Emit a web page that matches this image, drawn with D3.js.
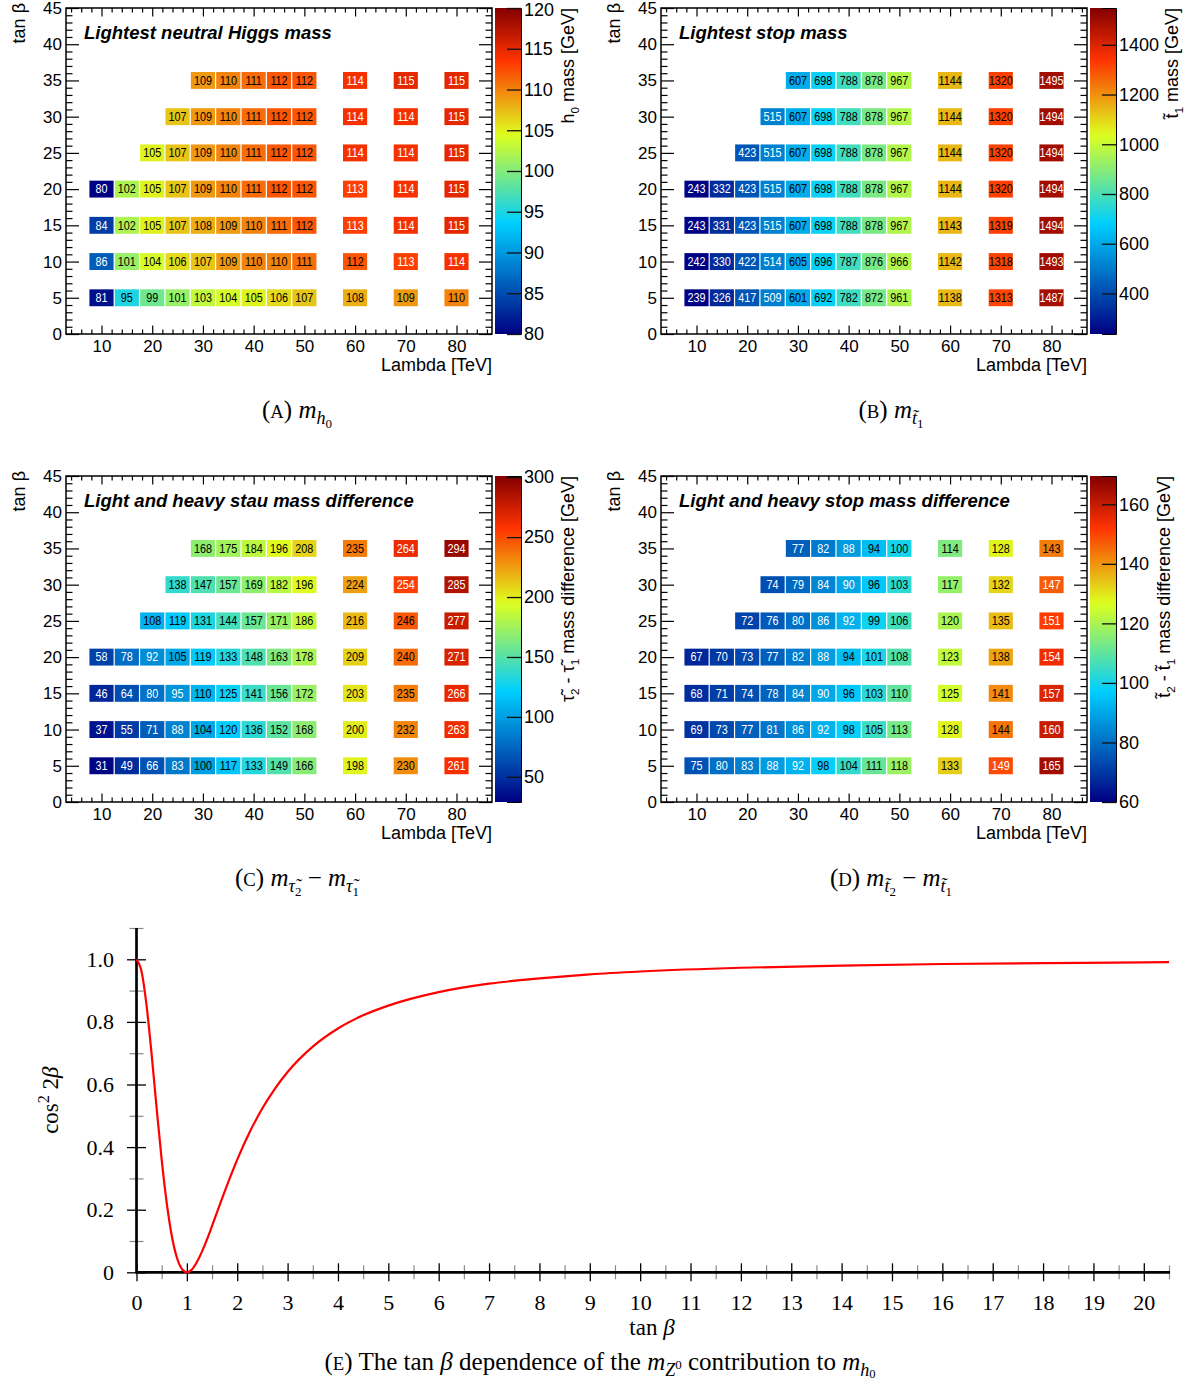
<!DOCTYPE html>
<html>
<head>
<meta charset="utf-8">
<script src="https://cdn.jsdelivr.net/npm/d3@7"></script>
<style>
  body { margin: 0; background: #fff; }
  svg text { font-family: "Liberation Sans", Arial, sans-serif; }
  .serif, .serif text { font-family: "Liberation Serif", "Times New Roman", serif; }
</style>
</head>
<body>
<svg id="fig" width="1195" height="1384"></svg>
<script>
// ---- scan grid ----
const lambdaTeV = [10, 15, 20, 25, 30, 35, 40, 45, 50, 60, 70, 80];
const tanBeta = [5, 10, 15, 20, 25, 30, 35];
const _ = null;

// rows follow tanBeta, columns follow lambdaTeV (null = point not in the scan)
const higgsMass = [
  [81, 95, 99, 101, 103, 104, 105, 106, 107, 108, 109, 110],
  [86, 101, 104, 106, 107, 109, 110, 110, 111, 112, 113, 114],
  [84, 102, 105, 107, 108, 109, 110, 111, 112, 113, 114, 115],
  [80, 102, 105, 107, 109, 110, 111, 112, 112, 113, 114, 115],
  [_, _, 105, 107, 109, 110, 111, 112, 112, 114, 114, 115],
  [_, _, _, 107, 109, 110, 111, 112, 112, 114, 114, 115],
  [_, _, _, _, 109, 110, 111, 112, 112, 114, 115, 115]
];
const stopMass = [
  [239, 326, 417, 509, 601, 692, 782, 872, 961, 1138, 1313, 1487],
  [242, 330, 422, 514, 605, 696, 787, 876, 966, 1142, 1318, 1493],
  [243, 331, 423, 515, 607, 698, 788, 878, 967, 1143, 1319, 1494],
  [243, 332, 423, 515, 607, 698, 788, 878, 967, 1144, 1320, 1494],
  [_, _, 423, 515, 607, 698, 788, 878, 967, 1144, 1320, 1494],
  [_, _, _, 515, 607, 698, 788, 878, 967, 1144, 1320, 1494],
  [_, _, _, _, 607, 698, 788, 878, 967, 1144, 1320, 1495]
];
const stauDiff = [
  [31, 49, 66, 83, 100, 117, 133, 149, 166, 198, 230, 261],
  [37, 55, 71, 88, 104, 120, 136, 152, 168, 200, 232, 263],
  [46, 64, 80, 95, 110, 125, 141, 156, 172, 203, 235, 266],
  [58, 78, 92, 105, 119, 133, 148, 163, 178, 209, 240, 271],
  [_, _, 108, 119, 131, 144, 157, 171, 186, 216, 246, 277],
  [_, _, _, 138, 147, 157, 169, 182, 196, 224, 254, 285],
  [_, _, _, _, 168, 175, 184, 196, 208, 235, 264, 294]
];
const stopDiff = [
  [75, 80, 83, 88, 92, 98, 104, 111, 118, 133, 149, 165],
  [69, 73, 77, 81, 86, 92, 98, 105, 113, 128, 144, 160],
  [68, 71, 74, 78, 84, 90, 96, 103, 110, 125, 141, 157],
  [67, 70, 73, 77, 82, 88, 94, 101, 108, 123, 138, 154],
  [_, _, 72, 76, 80, 86, 92, 99, 106, 120, 135, 151],
  [_, _, _, 74, 79, 84, 90, 96, 103, 117, 132, 147],
  [_, _, _, _, 77, 82, 88, 94, 100, 114, 128, 143]
];

// ---- colour-axis ticks ----
const zTicksHiggs = [80, 85, 90, 95, 100, 105, 110, 115, 120];
const zTicksStop = [400, 600, 800, 1000, 1200, 1400];
const zTicksStau = [50, 100, 150, 200, 250, 300];
const zTicksStopDiff = [60, 80, 100, 120, 140, 160];

// ---- tan beta curve (cos^2 2beta) ----
const curveTanBeta = [0, 0.1, 0.2, 0.3, 0.4, 0.5, 0.6, 0.7, 0.8, 0.9, 1.0, 1.1, 1.2, 1.3, 1.4, 1.5, 1.75, 2, 2.25, 2.5, 2.75, 3, 3.5, 4, 4.5, 5, 6, 7, 8, 9, 10, 12, 14, 16, 18, 20, 20.5];
const curveCos2 = [1, 0.961, 0.852, 0.697, 0.524, 0.36, 0.222, 0.117, 0.048, 0.011, 0, 0.009, 0.033, 0.066, 0.105, 0.148, 0.258, 0.36, 0.449, 0.524, 0.587, 0.64, 0.721, 0.779, 0.821, 0.852, 0.895, 0.922, 0.939, 0.952, 0.961, 0.973, 0.980, 0.985, 0.988, 0.990, 0.991];

const svg = d3.select("#fig");
const defs = svg.append("defs");

// rainbow palette: navy -> cyan -> yellow -> red -> dark red
const palStops = [0, 0.34, 0.61, 0.84, 1];
const palColors = ["rgb(0,0,130)", "rgb(0,207,255)", "rgb(222,255,31)", "rgb(255,51,0)", "rgb(130,0,0)"];
const palette = d3.scaleLinear().domain(palStops).range(palColors).interpolate(d3.interpolateRgb).clamp(true);

const grad = defs.append("linearGradient").attr("id", "pal")
  .attr("x1", 0).attr("y1", 1).attr("x2", 0).attr("y2", 0);
d3.range(0, 1.0001, 0.02).forEach(t => grad.append("stop").attr("offset", t).attr("stop-color", palette(t)));

// mixed-style text built from tspans
function rich(sel, parts, size) {
  parts.forEach(p => {
    const s = sel.append("tspan").text(p.t).attr("font-size", size * (p.fs || 1));
    if (p.it) s.attr("font-style", "italic");
    if (p.shift) s.attr("baseline-shift", (p.shift * size).toFixed(1));
  });
  return sel;
}

function heatPanel(cfg) {
  const { x0, x1, y0, y1, cb0, cb1 } = cfg.box;
  const x = d3.scaleLinear().domain([3, 87]).range([x0, x1]);
  const y = d3.scaleLinear().domain([0, 45]).range([y1, y0]);
  const zn = d3.scaleLinear().domain(cfg.zDomain).range([0, 1]);
  const zy = d3.scaleLinear().domain(cfg.zDomain).range([y1, y0]);
  const g = svg.append("g");

  const cells = [];
  cfg.values.forEach((row, i) => row.forEach((v, j) => {
    if (v != null) cells.push({ L: lambdaTeV[j], tb: tanBeta[i], v });
  }));

  g.append("g").selectAll("rect").data(cells).join("rect")
    .attr("x", d => x(d.L - 2.5) + 0.6)
    .attr("width", d => x(d.L + 2.5) - x(d.L - 2.5) - 1.2)
    .attr("y", d => y(d.tb + 1.25) + 0.6)
    .attr("height", d => y(d.tb - 1.25) - y(d.tb + 1.25) - 1.2)
    .attr("fill", d => palette(zn(d.v)));

  g.append("g").selectAll("text").data(cells).join("text")
    .attr("transform", d => `translate(${x(d.L)},${y(d.tb)}) scale(0.9,1)`)
    .attr("text-anchor", "middle").attr("dy", "0.36em").attr("font-size", 12)
    .attr("fill", d => { const t = zn(d.v); return (t < cfg.lowT || t > cfg.highT) ? "#fff" : "#000"; })
    .text(d => d.v);

  // frame
  g.append("rect").attr("x", x0).attr("y", y0).attr("width", x1 - x0).attr("height", y1 - y0)
    .attr("fill", "none").attr("stroke", "#000").attr("stroke-width", 1.5);

  const xMaj = d3.range(10, 81, 10), xMin = d3.range(4, 87, 2).filter(v => v % 10 !== 0);
  const yMaj = d3.range(0, 46, 5), yMin = d3.range(1, 45, 1).filter(v => v % 5 !== 0);
  const styleAxis = a => { a.select(".domain").remove(); a.selectAll("line").attr("stroke", "#000").attr("stroke-width", 1.2); };

  g.append("g").attr("transform", `translate(0,${y1})`)
    .call(d3.axisBottom(x).tickValues(xMaj).tickSize(-8.5).tickPadding(6)).call(styleAxis)
    .selectAll("text").attr("font-size", 17).attr("fill", "#000").attr("font-family", "Liberation Sans");
  g.append("g").attr("transform", `translate(0,${y1})`)
    .call(d3.axisBottom(x).tickValues(xMin).tickSize(-4.5).tickFormat("")).call(styleAxis);
  g.append("g").attr("transform", `translate(0,${y0})`)
    .call(d3.axisTop(x).tickValues(xMaj).tickSize(-8.5).tickFormat("")).call(styleAxis);
  g.append("g").attr("transform", `translate(0,${y0})`)
    .call(d3.axisTop(x).tickValues(xMin).tickSize(-4.5).tickFormat("")).call(styleAxis);

  g.append("g").attr("transform", `translate(${x0},0)`)
    .call(d3.axisLeft(y).tickValues(yMaj).tickSize(-13).tickPadding(4)).call(styleAxis)
    .selectAll("text").attr("font-size", 17).attr("fill", "#000").attr("font-family", "Liberation Sans");
  g.append("g").attr("transform", `translate(${x0},0)`)
    .call(d3.axisLeft(y).tickValues(yMin).tickSize(-6.5).tickFormat("")).call(styleAxis);
  g.append("g").attr("transform", `translate(${x1},0)`)
    .call(d3.axisRight(y).tickValues(yMaj).tickSize(-13).tickFormat("")).call(styleAxis);
  g.append("g").attr("transform", `translate(${x1},0)`)
    .call(d3.axisRight(y).tickValues(yMin).tickSize(-6.5).tickFormat("")).call(styleAxis);

  // colour bar
  g.append("rect").attr("x", cb0).attr("y", y0).attr("width", cb1 - cb0).attr("height", y1 - y0).attr("fill", "url(#pal)");
  g.append("g").attr("transform", `translate(${cb1},0)`)
    .call(d3.axisRight(zy).tickValues(cfg.zTicks).tickSize(-14).tickPadding(3).tickFormat(d3.format("d")))
    .call(a => { a.select(".domain").attr("stroke", "#000").attr("stroke-width", 1); a.selectAll("line").attr("stroke", "#111").attr("stroke-width", 1.3); })
    .selectAll("text").attr("font-size", 18).attr("fill", "#000").attr("font-family", "Liberation Sans")
    .attr("dy", d => zy(d) < 12 ? "0.4em" : "0.32em");

  // colour-bar title
  rich(g.append("text").attr("transform", `translate(${cfg.zTitleX},${y0}) rotate(-90)`)
    .attr("text-anchor", "end").attr("fill", "#000"), cfg.zTitle, 18);

  // axis titles
  rich(g.append("text").attr("transform", `translate(${x0 - 41},${y0 - 5}) rotate(-90)`)
    .attr("text-anchor", "end"), [{ t: "tan β" }], 18);
  g.append("text").attr("x", x1).attr("y", y1 + 37).attr("text-anchor", "end").attr("font-size", 18).text("Lambda [TeV]");

  // panel heading
  g.append("text").attr("x", x0 + 18).attr("y", y0 + 31).attr("font-size", 18.5)
    .attr("font-weight", "bold").attr("font-style", "italic").text(cfg.title);

  // caption
  rich(svg.append("text").attr("class", "serif").attr("x", cfg.capX).attr("y", cfg.capY)
    .attr("text-anchor", "middle").attr("fill", "#000"), cfg.caption, 25);
}

const T = "\u0303"; // combining tilde
heatPanel({
  values: higgsMass, zDomain: [80, 120], zTicks: zTicksHiggs, lowT: 0.3, highT: 0.81,
  box: { x0: 66, x1: 492, y0: 8, y1: 334, cb0: 495, cb1: 521 },
  title: "Lightest neutral Higgs mass", zTitleX: 574,
  zTitle: [{ t: "h" }, { t: "0", fs: 0.65, shift: -0.3 }, { t: " mass [GeV]" }],
  capX: 297, capY: 418,
  caption: [{ t: "(" }, { t: "A", fs: 0.75 }, { t: ") " }, { t: "m", it: true }, { t: "h", it: true, fs: 0.72, shift: -0.25 }, { t: "0", fs: 0.52, shift: -0.38 }]
});
heatPanel({
  values: stopMass, zDomain: [237, 1548], zTicks: zTicksStop, lowT: 0.25, highT: 0.9,
  box: { x0: 661, x1: 1087, y0: 8, y1: 334, cb0: 1090, cb1: 1116 },
  title: "Lightest stop mass", zTitleX: 1178,
  zTitle: [{ t: "t" + T }, { t: "1", fs: 0.65, shift: -0.3 }, { t: " mass [GeV]" }],
  capX: 891, capY: 418,
  caption: [{ t: "(" }, { t: "B", fs: 0.75 }, { t: ") " }, { t: "m", it: true }, { t: "t" + T, it: true, fs: 0.72, shift: -0.25 }, { t: "1", fs: 0.52, shift: -0.38 }]
});
heatPanel({
  values: stauDiff, zDomain: [29, 301], zTicks: zTicksStau, lowT: 0.255, highT: 0.81,
  box: { x0: 66, x1: 492, y0: 476, y1: 802, cb0: 495, cb1: 521 },
  title: "Light and heavy stau mass difference", zTitleX: 574,
  zTitle: [{ t: "τ" + T }, { t: "2", fs: 0.65, shift: -0.3 }, { t: " - τ" + T }, { t: "1", fs: 0.65, shift: -0.3 }, { t: " mass difference [GeV]" }],
  capX: 297, capY: 886,
  caption: [{ t: "(" }, { t: "C", fs: 0.75 }, { t: ") " }, { t: "m", it: true }, { t: "τ" + T, it: true, fs: 0.72, shift: -0.25 }, { t: "2", fs: 0.52, shift: -0.38 },
            { t: " − " }, { t: "m", it: true }, { t: "τ" + T, it: true, fs: 0.72, shift: -0.25 }, { t: "1", fs: 0.52, shift: -0.38 }]
});
heatPanel({
  values: stopDiff, zDomain: [60, 169.5], zTicks: zTicksStopDiff, lowT: 0.30, highT: 0.78,
  box: { x0: 661, x1: 1087, y0: 476, y1: 802, cb0: 1090, cb1: 1116 },
  title: "Light and heavy stop mass difference", zTitleX: 1170,
  zTitle: [{ t: "t" + T }, { t: "2", fs: 0.65, shift: -0.3 }, { t: " - t" + T }, { t: "1", fs: 0.65, shift: -0.3 }, { t: " mass difference [GeV]" }],
  capX: 891, capY: 886,
  caption: [{ t: "(" }, { t: "D", fs: 0.75 }, { t: ") " }, { t: "m", it: true }, { t: "t" + T, it: true, fs: 0.72, shift: -0.25 }, { t: "2", fs: 0.52, shift: -0.38 },
            { t: " − " }, { t: "m", it: true }, { t: "t" + T, it: true, fs: 0.72, shift: -0.25 }, { t: "1", fs: 0.52, shift: -0.38 }]
});

// ---- panel E: cos^2 2beta versus tan beta ----
(function () {
  const ox = 136.5, oy = 1272.3;
  const xE = d3.scaleLinear().domain([0, 20.52]).range([ox, 1170]);
  const yE = d3.scaleLinear().domain([0, 1.1]).range([oy, 928]);
  const g = svg.append("g").attr("class", "serif");

  // minor ticks
  g.append("g").attr("transform", `translate(0,${oy})`)
    .call(d3.axisBottom(xE).tickValues(d3.range(0.5, 20.6, 1)).tickSize(7).tickFormat(""))
    .call(a => { a.select(".domain").remove(); a.selectAll("line").attr("y1", -7).attr("stroke", "#888").attr("stroke-width", 1.2); });
  g.append("g").attr("transform", `translate(${ox},0)`)
    .call(d3.axisLeft(yE).tickValues([0.1, 0.3, 0.5, 0.7, 0.9, 1.1]).tickSize(7).tickFormat(""))
    .call(a => { a.select(".domain").remove(); a.selectAll("line").attr("x1", 7).attr("stroke", "#888").attr("stroke-width", 1.2); });

  // major ticks + labels
  g.append("g").attr("transform", `translate(0,${oy})`)
    .call(d3.axisBottom(xE).tickValues(d3.range(0, 21, 1)).tickSize(9).tickPadding(13).tickFormat(d3.format("d")))
    .call(a => { a.select(".domain").remove(); a.selectAll("line").attr("y1", -9).attr("stroke", "#000").attr("stroke-width", 1.3); })
    .selectAll("text").attr("font-size", 22).attr("fill", "#000").attr("font-family", "Liberation Serif");
  g.append("g").attr("transform", `translate(${ox},0)`)
    .call(d3.axisLeft(yE).tickValues([0, 0.2, 0.4, 0.6, 0.8, 1.0]).tickSize(9.5).tickPadding(13)
      .tickFormat(d => d === 0 ? "0" : d3.format(".1f")(d)))
    .call(a => { a.select(".domain").remove(); a.selectAll("line").attr("x1", 9.5).attr("stroke", "#000").attr("stroke-width", 1.3); })
    .selectAll("text").attr("font-size", 22).attr("fill", "#000").attr("font-family", "Liberation Serif");

  // axis lines
  g.append("line").attr("x1", ox).attr("x2", xE(20.52)).attr("y1", oy).attr("y2", oy).attr("stroke", "#000").attr("stroke-width", 2.7);
  g.append("line").attr("x1", ox).attr("x2", ox).attr("y1", yE(1.1)).attr("y2", oy + 1.3).attr("stroke", "#000").attr("stroke-width", 2.7);

  // curve
  const pts = curveTanBeta.map((t, i) => [t, curveCos2[i]]);
  g.append("path").datum(pts)
    .attr("d", d3.line().x(d => xE(d[0])).y(d => yE(d[1])).curve(d3.curveMonotoneX))
    .attr("fill", "none").attr("stroke", "#f00").attr("stroke-width", 2.2);

  // labels
  rich(g.append("text").attr("transform", `translate(58,${yE(0.55)}) rotate(-90)`).attr("text-anchor", "middle"),
    [{ t: "cos" }, { t: "2", fs: 0.7, shift: 0.4 }, { t: " 2" }, { t: "β", it: true }], 23);
  rich(g.append("text").attr("x", 652).attr("y", 1335).attr("text-anchor", "middle"),
    [{ t: "tan " }, { t: "β", it: true }], 23);
  rich(g.append("text").attr("x", 600).attr("y", 1370).attr("text-anchor", "middle"),
    [{ t: "(" }, { t: "E", fs: 0.75 }, { t: ") The tan " }, { t: "β", it: true }, { t: " dependence of the " },
     { t: "m", it: true }, { t: "Z", it: true, fs: 0.72, shift: -0.25 }, { t: "0", fs: 0.52, shift: 0.05 },
     { t: " contribution to " }, { t: "m", it: true }, { t: "h", it: true, fs: 0.72, shift: -0.22 }, { t: "0", fs: 0.5, shift: -0.3 }], 25);
})();
</script>
</body>
</html>
